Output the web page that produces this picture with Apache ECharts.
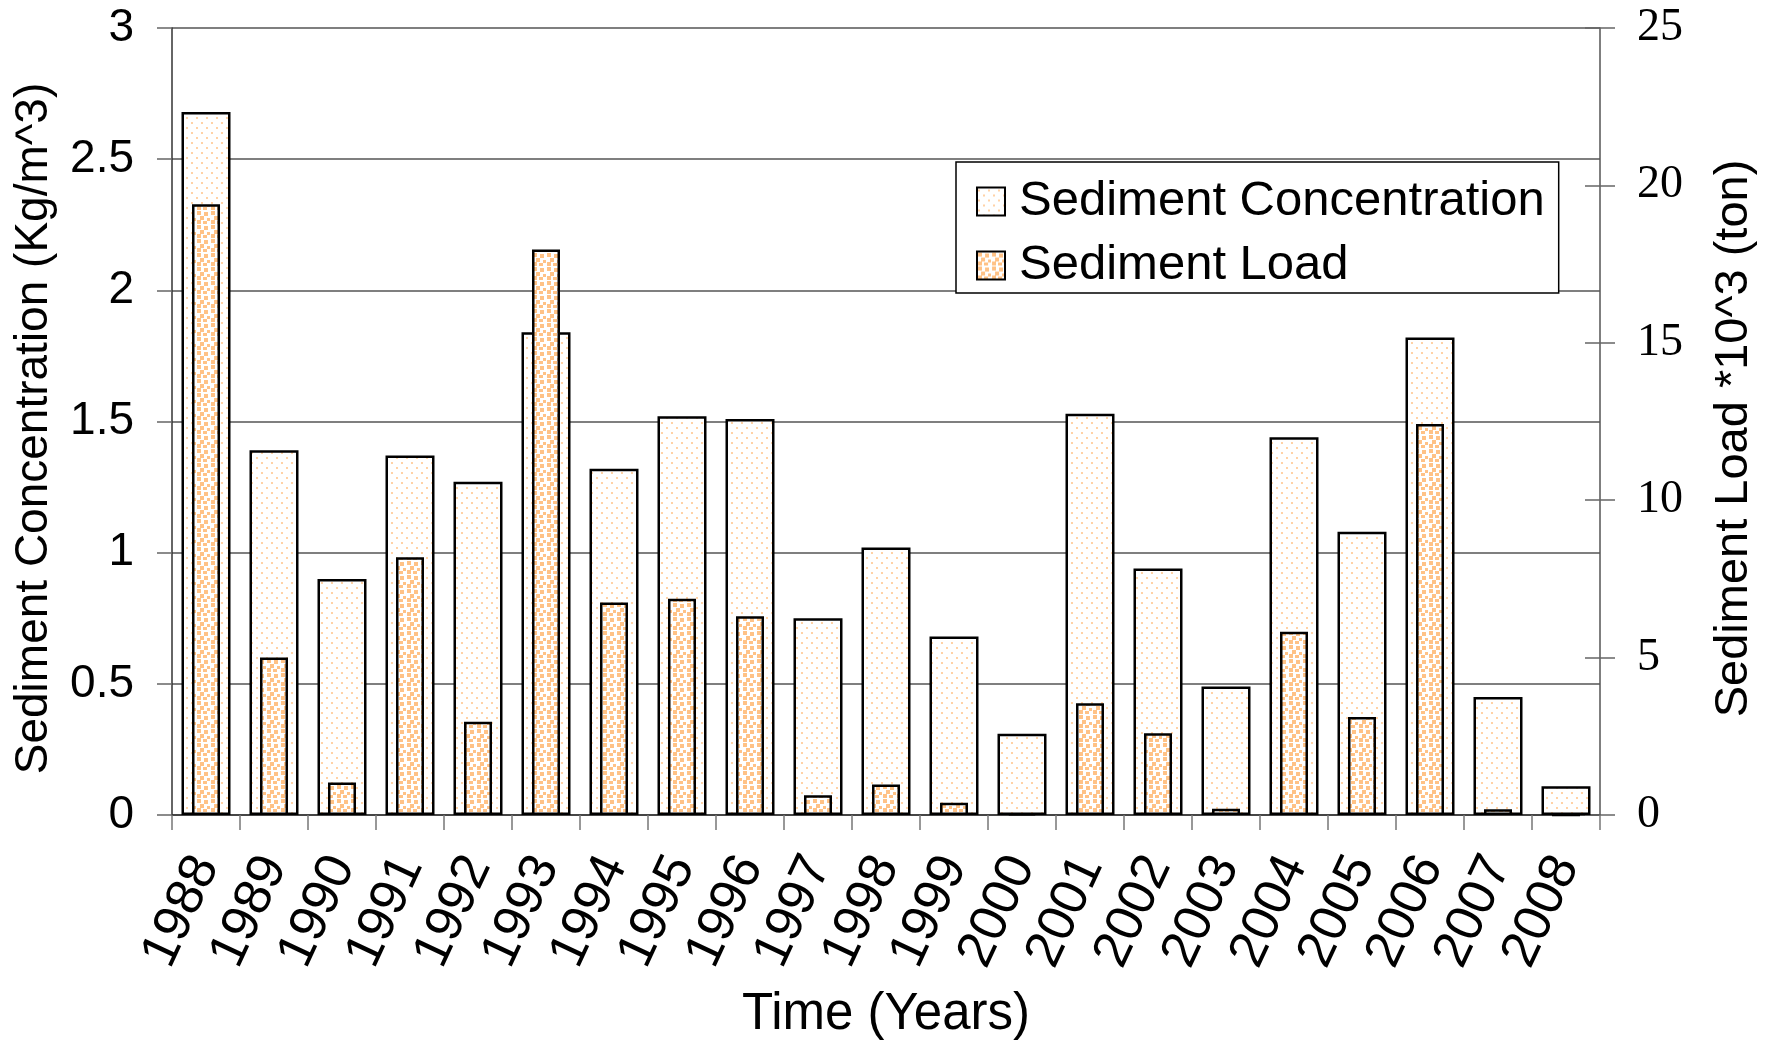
<!DOCTYPE html>
<html>
<head>
<meta charset="utf-8">
<style>
html,body{margin:0;padding:0;background:#fff;}
#chart{width:1779px;height:1045px;}
</style>
<script src="https://cdn.jsdelivr.net/npm/echarts@6/dist/echarts.min.js"></script>
</head>
<body>
<div id="chart"></div>
<script>
const years = ['1988','1989','1990','1991','1992','1993','1994','1995','1996','1997','1998','1999','2000','2001','2002','2003','2004','2005','2006','2007','2008'];
const concentration = [2.68,1.39,0.90,1.37,1.27,1.84,1.32,1.52,1.51,0.75,1.02,0.68,0.31,1.53,0.94,0.49,1.44,1.08,1.82,0.45,0.11];
const sedimentLoad = [19.4,5.0,1.03,8.19,2.96,17.96,6.75,6.87,6.31,0.63,0.97,0.39,0.05,3.55,2.60,0.20,5.82,3.11,12.42,0.18,0];
const leftTicks = {min:0, max:3, interval:0.5};
const rightTicks = {min:0, max:25, interval:5};

function makePattern(size, dots, color) {
  const c = document.createElement('canvas');
  c.width = size; c.height = size;
  const ctx = c.getContext('2d');
  ctx.fillStyle = '#ffffff';
  ctx.fillRect(0, 0, size, size);
  ctx.fillStyle = color;
  dots.forEach(d => ctx.fillRect(d[0], d[1], d[2], d[2]));
  return c;
}
const concPattern = makePattern(10, [[1,2,2],[6,7,2]], '#FFD2A6');
const loadPattern = makePattern(14, [[1,1,4],[8,2,4],[4,6,4],[11,8,3],[1,10,4],[7,11,4]], '#FFC286');

const sans = '"Liberation Sans", Arial, sans-serif';
const serif = '"Liberation Serif", "Times New Roman", serif';

const chart = echarts.init(document.getElementById('chart'), null, {renderer:'canvas'});
chart.setOption({
  animation: false,
  backgroundColor: '#ffffff',
  grid: {left: 172, right: 179, top: 28, bottom: 228, containLabel: false},
  legend: {
    show: true,
    orient: 'vertical',
    left: 956, top: 162,
    backgroundColor: '#ffffff',
    borderColor: '#000000', borderWidth: 1.5,
    padding: [15, 14, 3, 20],
    itemWidth: 28, itemHeight: 28, itemGap: 15,
    icon: 'rect',
    textStyle: {fontFamily: sans, fontSize: 49, color: '#000', lineHeight: 48, padding: [0,0,0,9]},
    data: ['Sediment Concentration', 'Sediment Load']
  },
  xAxis: [{
    type: 'category', data: years, position: 'bottom',
    axisLine: {lineStyle: {color: '#333', width: 1.5}},
    axisTick: {show: true, alignWithLabel: false, length: 15, lineStyle: {color: '#777', width: 1.5}},
    axisLabel: {rotate: 65, margin: 44, fontFamily: sans, fontSize: 52, color: '#000', interval: 0},
    name: 'Time (Years)', nameLocation: 'middle', nameGap: 174,
    nameTextStyle: {fontFamily: sans, fontSize: 51, color: '#000'}
  },{
    type: 'category', data: years, show: false
  }],
  yAxis: [{
    type: 'value', position: 'left', min: leftTicks.min, max: leftTicks.max, interval: leftTicks.interval,
    axisLine: {show: true, lineStyle: {color: '#333', width: 1.5}},
    axisTick: {show: true, length: 15, lineStyle: {color: '#666', width: 1.5}},
    axisLabel: {margin: 38, fontFamily: sans, fontSize: 46, color: '#000'},
    splitLine: {show: true, lineStyle: {color: '#555', width: 1.5}},
    name: 'Sediment Concentration (Kg/m^3)', nameLocation: 'middle', nameGap: 115,
    nameTextStyle: {fontFamily: sans, fontSize: 46, color: '#000', padding: [0, 14, 0, 0]}
  },{
    type: 'value', position: 'right', min: rightTicks.min, max: rightTicks.max, interval: rightTicks.interval,
    axisLine: {show: true, lineStyle: {color: '#555', width: 1.5}},
    axisTick: {show: true, length: 15, lineStyle: {color: '#666', width: 1.5}},
    axisLabel: {margin: 37, fontFamily: serif, fontSize: 46, color: '#000'},
    splitLine: {show: false},
    name: 'Sediment Load *10^3 (ton)', nameLocation: 'middle', nameGap: 111, nameRotate: 90,
    nameTextStyle: {fontFamily: sans, fontSize: 47, color: '#000', padding: [0, 34, 0, 0]}
  },{
    type: 'value', position: 'right', min: rightTicks.min, max: rightTicks.max, interval: rightTicks.interval,
    axisLine: {show: false},
    axisTick: {show: true, inside: true, length: 15, lineStyle: {color: '#666', width: 1.5}},
    axisLabel: {show: false},
    splitLine: {show: false}
  }],
  series: [{
    name: 'Sediment Concentration', type: 'bar', xAxisIndex: 0, yAxisIndex: 0,
    data: concentration, barWidth: 49,
    itemStyle: {color: {image: concPattern, repeat: 'repeat'}, borderColor: '#000', borderWidth: 2.5}
  },{
    name: 'Sediment Load', type: 'bar', xAxisIndex: 1, yAxisIndex: 1,
    data: sedimentLoad, barWidth: 28,
    itemStyle: {color: {image: loadPattern, repeat: 'repeat'}, borderColor: '#000', borderWidth: 2.5}
  }]
});
</script>
</body>
</html>
